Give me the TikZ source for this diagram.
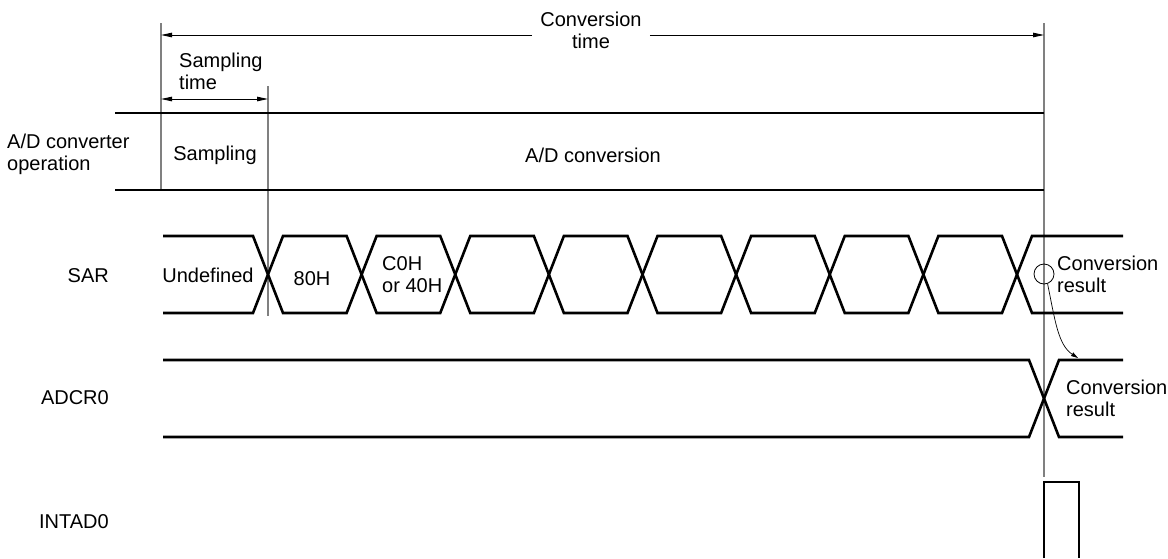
\documentclass[tikz,border=0pt]{standalone}
\usepackage{fontspec}
\setmainfont{Liberation Sans}
\usetikzlibrary{arrows.meta,calc}
\begin{document}
\begin{tikzpicture}[x=1pt,y=-1pt,
  lbl/.style={inner sep=0pt,font=\fontsize{20}{22}\selectfont},
  sig/.style={line width=2.6pt,line join=miter},
  band/.style={line width=2.8pt},
  guide/.style={line width=1.1pt,draw=black!50},
  dim/.style={line width=0.9pt,-{Triangle[length=11pt,width=4.5pt]}},
  curv/.style={line width=0.7pt,-{Triangle[length=7pt,width=4pt]}}]
\useasboundingbox (0,0) rectangle (1168,558);
% guide lines
\draw[guide] (161,23) -- (161,190);
\draw[guide] (268,86) -- (268,316);
\draw[guide] (1044,23) -- (1044,477);
% operation band
\draw[band] (115,113) -- (1044,113);
\draw[band] (115,190) -- (1044,190);
% texts
\node[lbl,align=center] (ct) at (591,30) {Conversion\\time};
\coordinate (ctL) at (161,35);
\coordinate (ctR) at (1044,35);
\draw[dim] (ct.west |- ctL) ++(-8,0) -- (ctL);
\draw[dim] (ct.east |- ctR) ++(8,0) -- (ctR);
\node[lbl,align=left,anchor=west] (st) at (179,71) {Sampling\\time};
\coordinate (stL) at (161,99);
\coordinate (stR) at (268,99);
\draw[dim,{Triangle[length=11pt,width=4.5pt]}-{Triangle[length=11pt,width=4.5pt]}] (stL) -- (stR);
\node[lbl,align=left,anchor=west] (op) at (7,154) {A/D converter\\operation};
\node[lbl] (samp) at (215,155) {Sampling};
\node[lbl] (conv) at (593,155) {A/D conversion};
\node[lbl,anchor=east] (sar) at (109,276) {SAR};
\node[lbl,anchor=east] (adcr) at (109,398) {ADCR0};
\node[lbl,anchor=east] (intad) at (109,522) {INTAD0};
% SAR signal
\def\T{236}\def\B{313}\def\M{274.5}\def\h{15}
\draw[sig] (163,\T) -- (268-\h,\T) -- (268,\M) -- (268-\h,\B) -- (163,\B);
\foreach \i in {0,...,7}{
  \pgfmathsetmacro{\ca}{268+93.625*\i}
  \pgfmathsetmacro{\cb}{268+93.625*(\i+1)}
  \draw[sig] (\ca,\M) -- (\ca+\h,\T) -- (\cb-\h,\T) -- (\cb,\M) -- (\cb-\h,\B) -- (\ca+\h,\B) -- cycle;
}
\draw[sig] (1123,\T) -- (1017+\h,\T) -- (1017,\M) -- (1017+\h,\B) -- (1123,\B);
\node[lbl] (undef) at (208,275) {Undefined};
\node[lbl] (h80) at (312,279) {80H};
\node[lbl,align=left,anchor=west] (hc0) at (382,275) {C0H\\or 40H};
\node[lbl,align=left,anchor=west] (res1) at (1057,274) {Conversion\\result};
% ADCR0 signal
\draw[sig] (163,360) -- (1029,360) -- (1044,398.5) -- (1029,437) -- (163,437);
\draw[sig] (1123,360) -- (1059,360) -- (1044,398.5) -- (1059,437) -- (1123,437);
\node[lbl,align=left,anchor=west] (res2) at (1066,398) {Conversion\\result};
% circle and transfer arrow
\node[circle,draw,line width=0.8pt,minimum size=20pt,inner sep=0pt] (ring) at (1044,274) {};
\coordinate (tgt) at (1078,358);
\draw[curv] (ring.-70) .. controls (1055,320) and (1058,345) .. (tgt);
% INTAD0 pulse
\draw[sig] (1044,558) -- (1044,482) -- (1079,482) -- (1079,558);
\end{tikzpicture}
\end{document}
